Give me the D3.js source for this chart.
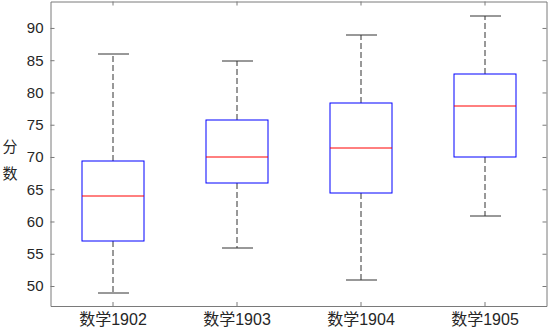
<!DOCTYPE html>
<html>
<head>
<meta charset="utf-8">
<script src="https://cdn.jsdelivr.net/npm/d3@7"></script>
<style>
  body { margin: 0; background: #fff; }
  text { font-family: "Liberation Sans", "Noto Sans CJK SC", sans-serif; }
</style>
</head>
<body>
<div id="chart"></div>
<script>
// values
var categories = ["数学1902", "数学1903", "数学1904", "数学1905"]
var whiskLow  = [49, 56, 51, 61]
var q1        = [57, 66, 64.5, 70]
var medians   = [64, 70, 71.5, 78]
var q3        = [69.5, 75.75, 78.5, 83]
var whiskHigh = [86, 85, 89, 92]
var yTicks    = [50, 55, 60, 65, 70, 75, 80, 85, 90]

var width = 550, height = 330
var margin = {top: 1.5, right: 3.5, bottom: 24, left: 50.5}
var plotW = width - margin.left - margin.right
var plotH = height - margin.top - margin.bottom

var svg = d3.select("#chart")
  .append("svg")
    .attr("width", width)
    .attr("height", height)

var g = svg.append("g")
  .attr("transform", "translate(" + margin.left + "," + margin.top + ")")

var x = d3.scaleLinear()
  .domain([0.5, categories.length + 0.5])
  .range([0, plotW])

var y = d3.scaleLinear()
  .domain([46.9, 94.1])
  .range([plotH, 0])

function px(v) { return Math.round(v) }

var rows = categories.map(function(c, i) {
  return {name: c, pos: i + 1, lo: whiskLow[i], q1: q1[i], med: medians[i], q3: q3[i], hi: whiskHigh[i]}
})

var frameColor = "#7a7a7a"
var textColor = "#262626"

// axes, ticks pointing inward like matlab
var xTickVals = rows.map(d => d.pos)

var bottomAx = g.append("g")
  .attr("transform", "translate(0," + plotH + ")")
  .call(d3.axisBottom(x).tickValues(xTickVals).tickSizeInner(-4).tickSizeOuter(0).tickPadding(8)
    .tickFormat((d, i) => categories[i]))

var topAx = g.append("g")
  .call(d3.axisTop(x).tickValues(xTickVals).tickSizeInner(-4).tickSizeOuter(0).tickFormat(""))

var leftAx = g.append("g")
  .call(d3.axisLeft(y).tickValues(yTicks).tickSizeInner(-4).tickSizeOuter(0).tickPadding(7))

var rightAx = g.append("g")
  .attr("transform", "translate(" + plotW + ",0)")
  .call(d3.axisRight(y).tickValues(yTicks).tickSizeInner(-4).tickSizeOuter(0).tickFormat(""))

;[bottomAx, topAx, leftAx, rightAx].forEach(function(a) {
  a.selectAll("path, line").attr("stroke", frameColor)
  a.selectAll("text").attr("fill", textColor).style("font-size", "15px")
})
bottomAx.selectAll("text").style("font-size", "16px")

// y label, stacked characters
var ylab = svg.append("text")
  .attr("x", 10)
  .attr("y", 152)
  .attr("fill", textColor)
  .style("font-size", "15px")
  .attr("text-anchor", "middle")
ylab.append("tspan").attr("x", 10).attr("dy", 0).text("分")
ylab.append("tspan").attr("x", 10).attr("dy", 27).text("数")

// boxes - half pixel shift so lines come out soft like the matlab export
var boxHalf = 0.25, capHalf = 0.125

var box = g.append("g")
  .attr("transform", "translate(0.5,0.5)")
  .selectAll(".box")
  .data(rows)
  .enter()
  .append("g")
  .attr("class", "box")

box.append("line")
  .attr("x1", d => px(x(d.pos)))
  .attr("x2", d => px(x(d.pos)))
  .attr("y1", d => px(y(d.q3)))
  .attr("y2", d => px(y(d.hi)))
  .attr("stroke", "#333")
  .attr("stroke-dasharray", "6,3")

box.append("line")
  .attr("x1", d => px(x(d.pos)))
  .attr("x2", d => px(x(d.pos)))
  .attr("y1", d => px(y(d.q1)))
  .attr("y2", d => px(y(d.lo)))
  .attr("stroke", "#333")
  .attr("stroke-dasharray", "6,3")

box.append("line")
  .attr("x1", d => px(x(d.pos - capHalf)))
  .attr("x2", d => px(x(d.pos + capHalf)))
  .attr("y1", d => px(y(d.hi)))
  .attr("y2", d => px(y(d.hi)))
  .attr("stroke", "#333")

box.append("line")
  .attr("x1", d => px(x(d.pos - capHalf)))
  .attr("x2", d => px(x(d.pos + capHalf)))
  .attr("y1", d => px(y(d.lo)))
  .attr("y2", d => px(y(d.lo)))
  .attr("stroke", "#333")

box.append("rect")
  .attr("x", d => px(x(d.pos - boxHalf)))
  .attr("y", d => px(y(d.q3)))
  .attr("width", d => px(x(d.pos + boxHalf)) - px(x(d.pos - boxHalf)))
  .attr("height", d => px(y(d.q1)) - px(y(d.q3)))
  .attr("fill", "none")
  .attr("stroke", "#0000ff")

box.append("line")
  .attr("x1", d => px(x(d.pos - boxHalf)))
  .attr("x2", d => px(x(d.pos + boxHalf)))
  .attr("y1", d => px(y(d.med)))
  .attr("y2", d => px(y(d.med)))
  .attr("stroke", "#ff0000")
</script>
</body>
</html>
